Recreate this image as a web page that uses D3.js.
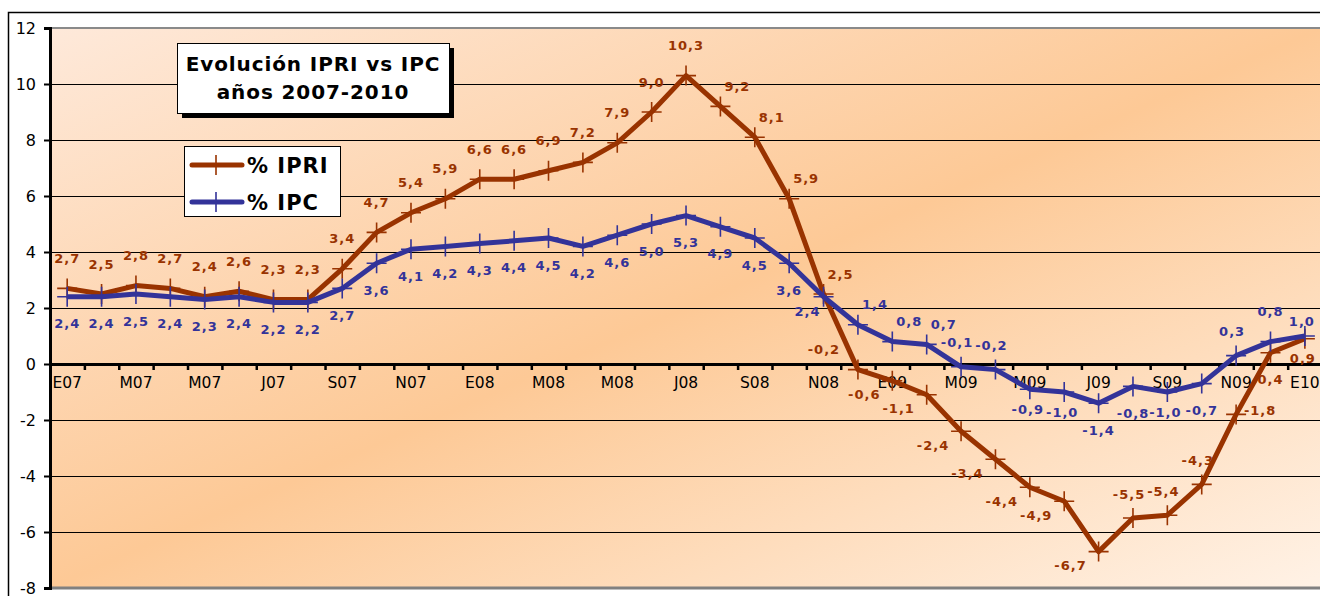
<!DOCTYPE html>
<html>
<head>
<meta charset="utf-8">
<script src="https://cdn.jsdelivr.net/npm/d3@7"></script>
<style>
  body { margin: 0; background: #fff; }
  svg { display: block; font-family: "DejaVu Sans", Verdana, sans-serif; }
</style>
</head>
<body>
<div id="chart"></div>
<script>
// monthly codes, Jan 2007 .. Jan 2010 (only every other one is shown on the axis)
const months = ["E07","F07","M07","A07","M07","J07","J07","A07","S07","O07","N07","D07",
  "E08","F08","M08","A08","M08","J08","J08","A08","S08","O08","N08","D08",
  "E09","F09","M09","A09","M09","J09","J09","A09","S09","O09","N09","D09","E10"];

const ipri = [2.7, 2.5, 2.8, 2.7, 2.4, 2.6, 2.3, 2.3, 3.4, 4.7, 5.4, 5.9,
  6.6, 6.6, 6.9, 7.2, 7.9, 9.0, 10.3, 9.2, 8.1, 5.9, 2.5, -0.2,
  -0.6, -1.1, -2.4, -3.4, -4.4, -4.9, -6.7, -5.5, -5.4, -4.3, -1.8, 0.4, 0.9];

const ipc = [2.4, 2.4, 2.5, 2.4, 2.3, 2.4, 2.2, 2.2, 2.7, 3.6, 4.1, 4.2,
  4.3, 4.4, 4.5, 4.2, 4.6, 5.0, 5.3, 4.9, 4.5, 3.6, 2.4, 1.4,
  0.8, 0.7, -0.1, -0.2, -0.9, -1.0, -1.4, -0.8, -1.0, -0.7, 0.3, 0.8, 1.0];

const yTicks = [-8, -6, -4, -2, 0, 2, 4, 6, 8, 10, 12];

// where each data label sits relative to its point (like excel's label position)
const ipriLabelPos = ["t","t","t","t","t","t","t","t","t","t","t","t",
  "t","t","t","t","t","t","t","tr","tr","tr","tr","tl",
  "bl","bl","bl","bl","bl","bl","bl","tn","tn","tn","r","b","bs"];
const ipcLabelPos = ["b","b","b","b","b","b","b","b","b","b","b","b",
  "b","b","b","b","b","b","b","b","b","b","bl2","tr",
  "tr","tr","tn","tn","bs","bs","b","b","bs","b","tn","t","ts"];

const labelOffsets = {
  t: [0, -30], b: [0, 27], tr: [17, -20], tl: [-34, -20], bl: [-28, 14],
  bl2: [-16, 15], r: [24, -4], tn: [-4, -24], bs: [-2, 20], ts: [-3, -15]
};

const series = [
  { name: "% IPRI", values: ipri, pos: ipriLabelPos, color: "#993300" },
  { name: "% IPC", values: ipc, pos: ipcLabelPos, color: "#333399" }
];

const width = 1320, height = 596;
const plotLeft = 50, plotTop = 28, plotBottom = 588;
const step = 34.38;
const plotW = months.length * step;

const svg = d3.select("#chart").append("svg")
  .attr("width", width)
  .attr("height", height);

const defs = svg.append("defs");
const grad = defs.append("linearGradient")
  .attr("id", "bg")
  .attr("x1", 0).attr("y1", 0).attr("x2", 1).attr("y2", 1);
grad.append("stop").attr("offset", 0).attr("stop-color", "#fee9da");
grad.append("stop").attr("offset", 0.5).attr("stop-color", "#fdc996");
grad.append("stop").attr("offset", 1).attr("stop-color", "#fff2e6");

// chart area frame
svg.append("rect")
  .attr("x", 8.5).attr("y", 12.5)
  .attr("width", width).attr("height", height)
  .attr("fill", "#fff")
  .attr("stroke", "#000")
  .attr("stroke-width", 1.5);

const x = d3.scaleBand()
  .domain(d3.range(months.length))
  .range([plotLeft, plotLeft + plotW])
  .paddingInner(0).paddingOuter(0);
const xc = i => x(i) + x.bandwidth() / 2;
const xEdge = d3.scaleLinear()
  .domain([0, months.length])
  .range([plotLeft, plotLeft + plotW]);

const y = d3.scaleLinear().domain([-8, 12]).range([plotBottom, plotTop]);

// plot area
svg.append("rect")
  .attr("x", plotLeft).attr("y", plotTop)
  .attr("width", plotW).attr("height", plotBottom - plotTop)
  .attr("fill", "url(#bg)");

// gridlines
svg.append("g")
  .attr("transform", `translate(${plotLeft},0)`)
  .call(d3.axisLeft(y).tickValues(yTicks).tickSize(-plotW).tickFormat(""))
  .call(g => g.select(".domain").remove())
  .call(g => g.selectAll("line").attr("stroke", "#000").attr("stroke-width", 1));

// plot border top / bottom in grey
svg.append("line")
  .attr("x1", plotLeft).attr("x2", width)
  .attr("y1", plotTop).attr("y2", plotTop)
  .attr("stroke", "#8a8a8a").attr("stroke-width", 2);
svg.append("line")
  .attr("x1", plotLeft).attr("x2", width)
  .attr("y1", plotBottom).attr("y2", plotBottom)
  .attr("stroke", "#808080").attr("stroke-width", 3);

// y axis
svg.append("g")
  .attr("transform", `translate(${plotLeft},0)`)
  .call(d3.axisLeft(y).tickValues(yTicks).tickSize(6).tickPadding(8).tickFormat(d3.format("d")))
  .call(g => g.select(".domain").attr("stroke", "#000").attr("stroke-width", 3))
  .call(g => g.selectAll(".tick line").attr("stroke", "#000").attr("stroke-width", 2))
  .call(g => g.selectAll(".tick text")
    .attr("fill", "#000")
    .style("font-size", "16px")
    .style("font-family", "'DejaVu Sans', Verdana, sans-serif")
    .text(d => d < 0 ? "-" + Math.abs(d) : d));

// x axis: line at zero, ticks on category edges
svg.append("g")
  .attr("transform", `translate(0,${y(0)})`)
  .call(d3.axisBottom(xEdge).tickValues(d3.range(months.length + 1)).tickSize(6).tickFormat("").tickSizeOuter(0))
  .call(g => g.select(".domain").attr("stroke", "#000").attr("stroke-width", 3))
  .call(g => g.selectAll(".tick line").attr("stroke", "#000").attr("stroke-width", 2.5));

svg.append("g")
  .attr("transform", `translate(0,${y(0)})`)
  .call(d3.axisBottom(x).tickValues(d3.range(0, months.length, 2)).tickSize(0).tickPadding(13)
    .tickFormat(i => months[i]))
  .call(g => g.select(".domain").remove())
  .call(g => g.selectAll(".tick text")
    .attr("fill", "#000")
    .style("font-size", "15.5px")
    .style("font-family", "'DejaVu Sans', Verdana, sans-serif"));

// series lines + markers
const line = d3.line()
  .x((d, i) => xc(i))
  .y(d => y(d));

const cross = "M-10,0H10M0,-10V10";

series.forEach(s => {
  svg.append("path")
    .datum(s.values)
    .attr("d", line)
    .attr("fill", "none")
    .attr("stroke", s.color)
    .attr("stroke-width", 5)
    .attr("stroke-linejoin", "round");

  svg.append("g").selectAll("path")
    .data(s.values)
    .join("path")
    .attr("transform", (d, i) => `translate(${xc(i)},${y(d)})`)
    .attr("d", cross)
    .attr("stroke", s.color)
    .attr("stroke-width", 1.6)
    .attr("fill", "none");
});

// data labels on top
const fmt = v => v.toFixed(1).replace(".", ",");
series.forEach(s => {
  svg.append("g").selectAll("text")
    .data(s.values)
    .join("text")
    .attr("x", (d, i) => xc(i) + labelOffsets[s.pos[i]][0])
    .attr("y", (d, i) => y(d) + labelOffsets[s.pos[i]][1])
    .attr("dy", "0.36em")
    .attr("text-anchor", "middle")
    .attr("fill", s.color)
    .style("font-size", "13px")
    .style("font-weight", "bold")
    .style("letter-spacing", "1px")
    .text(d => fmt(d));
});

// title box with shadow
const tb = { x: 177, y: 43, w: 272, h: 70 };
svg.append("rect")
  .attr("x", tb.x + 5).attr("y", tb.y + 5)
  .attr("width", tb.w).attr("height", tb.h)
  .attr("fill", "#000");
svg.append("rect")
  .attr("x", tb.x + 0.5).attr("y", tb.y + 0.5)
  .attr("width", tb.w).attr("height", tb.h)
  .attr("fill", "#fff").attr("stroke", "#000").attr("stroke-width", 1);
svg.append("text")
  .attr("x", tb.x + tb.w / 2).attr("y", 71)
  .attr("text-anchor", "middle")
  .style("font-size", "20px").style("font-weight", "bold").style("letter-spacing", "0.9px")
  .text("Evolución IPRI vs IPC");
svg.append("text")
  .attr("x", tb.x + tb.w / 2).attr("y", 99)
  .attr("text-anchor", "middle")
  .style("font-size", "20px").style("font-weight", "bold").style("letter-spacing", "0.9px")
  .text("años 2007-2010");

// legend
const lg = svg.append("g");
lg.append("rect")
  .attr("x", 184.5).attr("y", 146.5)
  .attr("width", 156).attr("height", 70)
  .attr("fill", "#fff").attr("stroke", "#000").attr("stroke-width", 1);
series.forEach((s, i) => {
  const ly = 165 + i * 37;
  lg.append("line")
    .attr("x1", 192).attr("x2", 242)
    .attr("y1", ly).attr("y2", ly)
    .attr("stroke", s.color).attr("stroke-width", 5).attr("stroke-linecap", "round");
  lg.append("path")
    .attr("transform", `translate(216,${ly})`)
    .attr("d", cross)
    .attr("stroke", s.color).attr("stroke-width", 1.6);
  lg.append("text")
    .attr("x", 247).attr("y", ly + 7.5)
    .style("font-size", "21px").style("font-weight", "bold").style("letter-spacing", "1px")
    .text(s.name);
});
</script>
</body>
</html>
